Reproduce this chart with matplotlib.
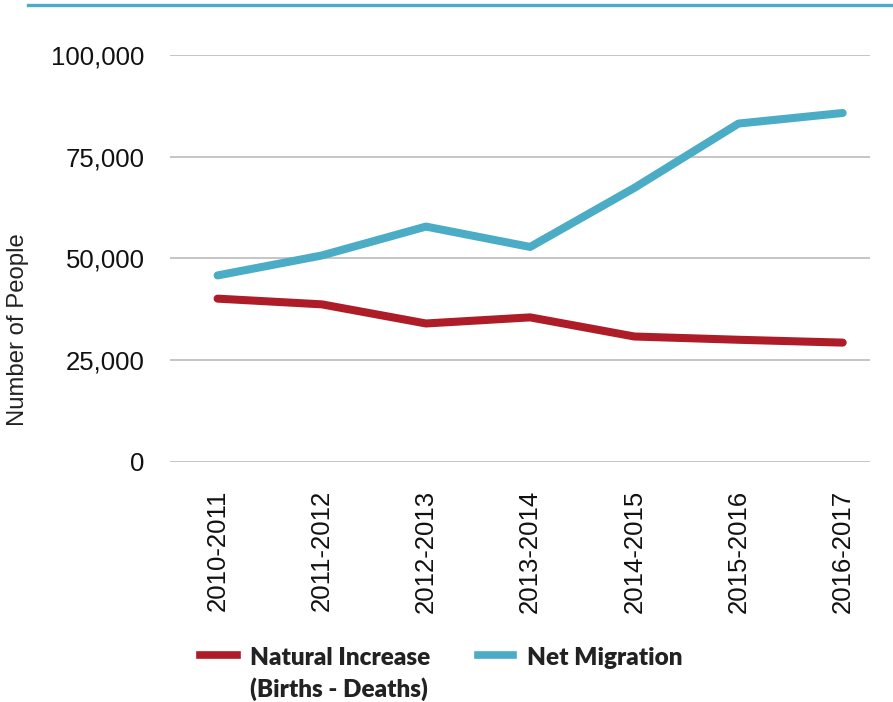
import matplotlib
matplotlib.use("Agg")
import matplotlib.pyplot as plt
from matplotlib.lines import Line2D
import matplotlib.ticker as mticker

years = ['2010-2011', '2011-2012', '2012-2013', '2013-2014',
         '2014-2015', '2015-2016', '2016-2017']
natural_increase = [40100, 38700, 34000, 35500, 30800, 30000, 29300]
net_migration = [45800, 50700, 57800, 52800, 67300, 83100, 85700]
series_labels = ['Natural Increase\n(Births - Deaths)', 'Net Migration']

red = '#ae1c28'
blue = '#4bacc6'

plt.rcParams['font.family'] = ['Liberation Sans', 'DejaVu Sans']

fig = plt.figure(figsize=(8.93, 7.02), dpi=100)
ax = fig.add_axes([0.190, 0.342, 0.784, 0.580])

x = list(range(len(years)))
ax.plot(x, natural_increase, color=red, lw=5.8, solid_capstyle='round',
        solid_joinstyle='round', label=series_labels[0])
ax.plot(x, net_migration, color=blue, lw=5.8, solid_capstyle='round',
        solid_joinstyle='round', label=series_labels[1])

ax.set_xlim(-0.46, 6.26)
ax.set_ylim(0, 100000)
ax.set_yticks([0, 25000, 50000, 75000, 100000])
ax.yaxis.set_major_formatter(mticker.FuncFormatter(lambda v, p: '{:,.0f}'.format(v)))
ax.set_xticks(x)
ax.set_xticklabels(years, rotation=90, fontsize=18.5)
ax.tick_params(axis='y', length=0, pad=18, labelsize=18.5, colors='#111111')
ax.tick_params(axis='x', length=0, pad=20, colors='#111111')
ax.grid(axis='y', color='#bbbbbb', lw=1.2)
ax.set_axisbelow(True)
for s in ax.spines.values():
    s.set_visible(False)

fig.text(18 / 893, 1 - 330 / 702, 'Number of People', rotation=90,
         fontsize=17.2, ha='center', va='center', color='#222222')

# top rule
fig.add_artist(Line2D([28 / 893, 1.0], [1 - 5 / 702, 1 - 5 / 702],
                      color=blue, lw=2.4, transform=fig.transFigure))

# legend, drawn by hand so the two-line label hangs from the swatch row
leg_font = {'family': 'Lato', 'weight': 'heavy', 'size': 17.5}
swatches = [(200, 237, 250, red), (478, 513, 527, blue)]
for (x0, x1, tx, c), lab in zip(swatches, series_labels):
    fig.add_artist(Line2D([x0 / 893, x1 / 893], [1 - 655 / 702] * 2,
                          color=c, lw=5.5, transform=fig.transFigure))
    fig.text(tx / 893, 1 - 647 / 702, lab, ha='left', va='top',
             linespacing=1.4, color='#222222', fontdict=leg_font)

fig.savefig('out.png', dpi=100)
